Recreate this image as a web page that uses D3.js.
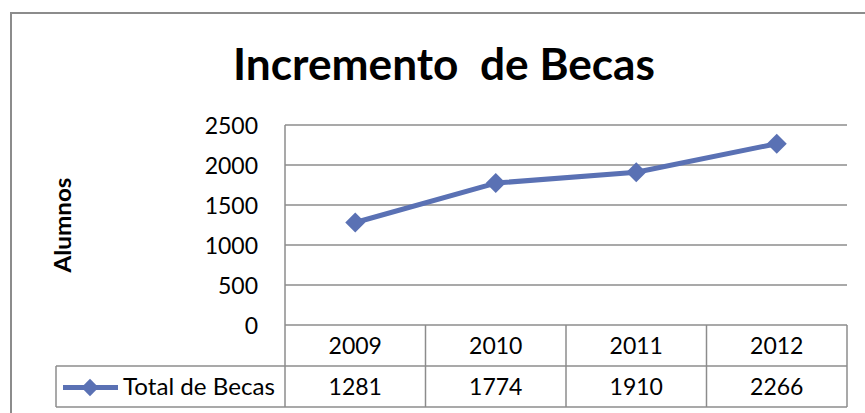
<!DOCTYPE html>
<html>
<head>
<meta charset="utf-8">
<script src="https://cdn.jsdelivr.net/npm/d3@7"></script>
<style>
  body { margin: 0; background: #fff; }
  text { font-family: Lato, "Open Sans", sans-serif; fill: #000; }
</style>
</head>
<body>
<div id="chart"></div>
<script>
// ==============================
// Chart data
// ==============================
var years = ["2009", "2010", "2011", "2012"];
var becas = [1281, 1774, 1910, 2266];
var yTicks = [0, 500, 1000, 1500, 2000, 2500];
var seriesName = "Total de Becas";
var chartTitle = "Incremento  de Becas";
var yTitle = "Alumnos";

var svgWidth = 865, svgHeight = 413;
var lineColor = "#5a71b4";
var gridColor = "#8c8c8c";

var svg = d3.select("#chart").append("svg")
  .attr("width", svgWidth)
  .attr("height", svgHeight);

// outer frame (only top and left visible)
svg.append("path")
  .attr("d", "M11,413 V13 H865")
  .attr("fill", "none")
  .attr("stroke", gridColor)
  .attr("stroke-width", 2);

// scales
var xScale = d3.scaleBand().domain(years).range([285, 847]);
var yScale = d3.scaleLinear().domain([0, 2500]).range([325, 125]);
var rowH = 41;
var legendLeft = 56;

// Title
svg.append("text")
  .attr("x", 444)
  .attr("y", 80)
  .attr("text-anchor", "middle")
  .style("white-space", "pre")
  .style("font-weight", "bold")
  .style("font-size", "43px")
  .attr("textLength", 422)
  .attr("lengthAdjust", "spacingAndGlyphs")
  .text(chartTitle);

// y axis title
svg.append("text")
  .attr("transform", "translate(71,225) rotate(-90)")
  .attr("text-anchor", "middle")
  .style("font-weight", "bold")
  .style("font-size", "23px")
  .attr("textLength", 95)
  .attr("lengthAdjust", "spacingAndGlyphs")
  .text(yTitle);

// gridlines
svg.append("g").selectAll("line")
  .data(yTicks)
  .enter().append("line")
  .attr("x1", 285).attr("x2", 847)
  .attr("y1", d => yScale(d)).attr("y2", d => yScale(d))
  .attr("stroke", gridColor)
  .attr("stroke-width", 1.5);

// y axis labels
var yAxis = d3.axisLeft(yScale).tickValues(yTicks).tickFormat(d3.format("d"))
  .tickSize(0).tickPadding(27);
var yAxisG = svg.append("g")
  .attr("transform", "translate(285,0)")
  .call(yAxis);
yAxisG.select(".domain").remove();
yAxisG.selectAll("text")
  .style("font-family", "Lato, sans-serif")
  .style("font-size", "23px")
  .attr("dy", "0.36em")
  .attr("fill", "#000");

// ==============================
// Data table under the chart
// ==============================
var tableTop = yScale(0);
var table = svg.append("g")
  .attr("stroke", gridColor)
  .attr("stroke-width", 1.5);

// vertical axis line, down through the table
table.append("line")
  .attr("x1", 285).attr("x2", 285)
  .attr("y1", yScale(2500)).attr("y2", tableTop + 2 * rowH);

// column separators
table.selectAll(".sep")
  .data(years)
  .enter().append("line")
  .attr("class", "sep")
  .attr("x1", d => xScale(d) + xScale.bandwidth())
  .attr("x2", d => xScale(d) + xScale.bandwidth())
  .attr("y1", tableTop).attr("y2", tableTop + 2 * rowH);

// horizontal rows
table.append("line")
  .attr("x1", legendLeft).attr("x2", 847)
  .attr("y1", tableTop + rowH).attr("y2", tableTop + rowH);
table.append("line")
  .attr("x1", legendLeft).attr("x2", 847)
  .attr("y1", tableTop + 2 * rowH).attr("y2", tableTop + 2 * rowH);
table.append("line")
  .attr("x1", legendLeft).attr("x2", legendLeft)
  .attr("y1", tableTop + rowH).attr("y2", tableTop + 2 * rowH);

// year labels
svg.append("g").selectAll("text")
  .data(years)
  .enter().append("text")
  .attr("x", d => xScale(d) + xScale.bandwidth() / 2)
  .attr("y", tableTop + rowH / 2 + 8)
  .attr("text-anchor", "middle")
  .style("font-size", "23px")
  .text(d => d);

// value labels
svg.append("g").selectAll("text")
  .data(becas)
  .enter().append("text")
  .attr("x", (d, i) => xScale(years[i]) + xScale.bandwidth() / 2)
  .attr("y", tableTop + rowH * 1.5 + 8)
  .attr("text-anchor", "middle")
  .style("font-size", "23px")
  .text(d => d);

// legend key
var legY = tableTop + rowH * 1.5 + 1;
svg.append("line")
  .attr("x1", 63).attr("x2", 118)
  .attr("y1", legY).attr("y2", legY)
  .attr("stroke", lineColor)
  .attr("stroke-width", 5);
svg.append("path")
  .attr("d", d3.symbol(d3.symbolSquare, 150)())
  .attr("transform", `translate(90,${legY}) rotate(45)`)
  .attr("fill", lineColor);
svg.append("text")
  .attr("x", 123)
  .attr("y", tableTop + rowH * 1.5 + 8)
  .style("font-size", "23px")
  .attr("textLength", 152)
  .attr("lengthAdjust", "spacingAndGlyphs")
  .text(seriesName);

// ==============================
// Series line and markers
// ==============================
var line = d3.line()
  .x((d, i) => xScale(years[i]) + xScale.bandwidth() / 2)
  .y(d => yScale(d));

svg.append("path")
  .datum(becas)
  .attr("d", line)
  .attr("fill", "none")
  .attr("stroke", lineColor)
  .attr("stroke-width", 5)
  .attr("stroke-linejoin", "round");

svg.append("g").selectAll("path")
  .data(becas)
  .enter().append("path")
  .attr("d", d3.symbol(d3.symbolSquare, 200)())
  .attr("transform", (d, i) =>
    `translate(${xScale(years[i]) + xScale.bandwidth() / 2},${yScale(d)}) rotate(45)`)
  .attr("fill", lineColor);
</script>
</body>
</html>
